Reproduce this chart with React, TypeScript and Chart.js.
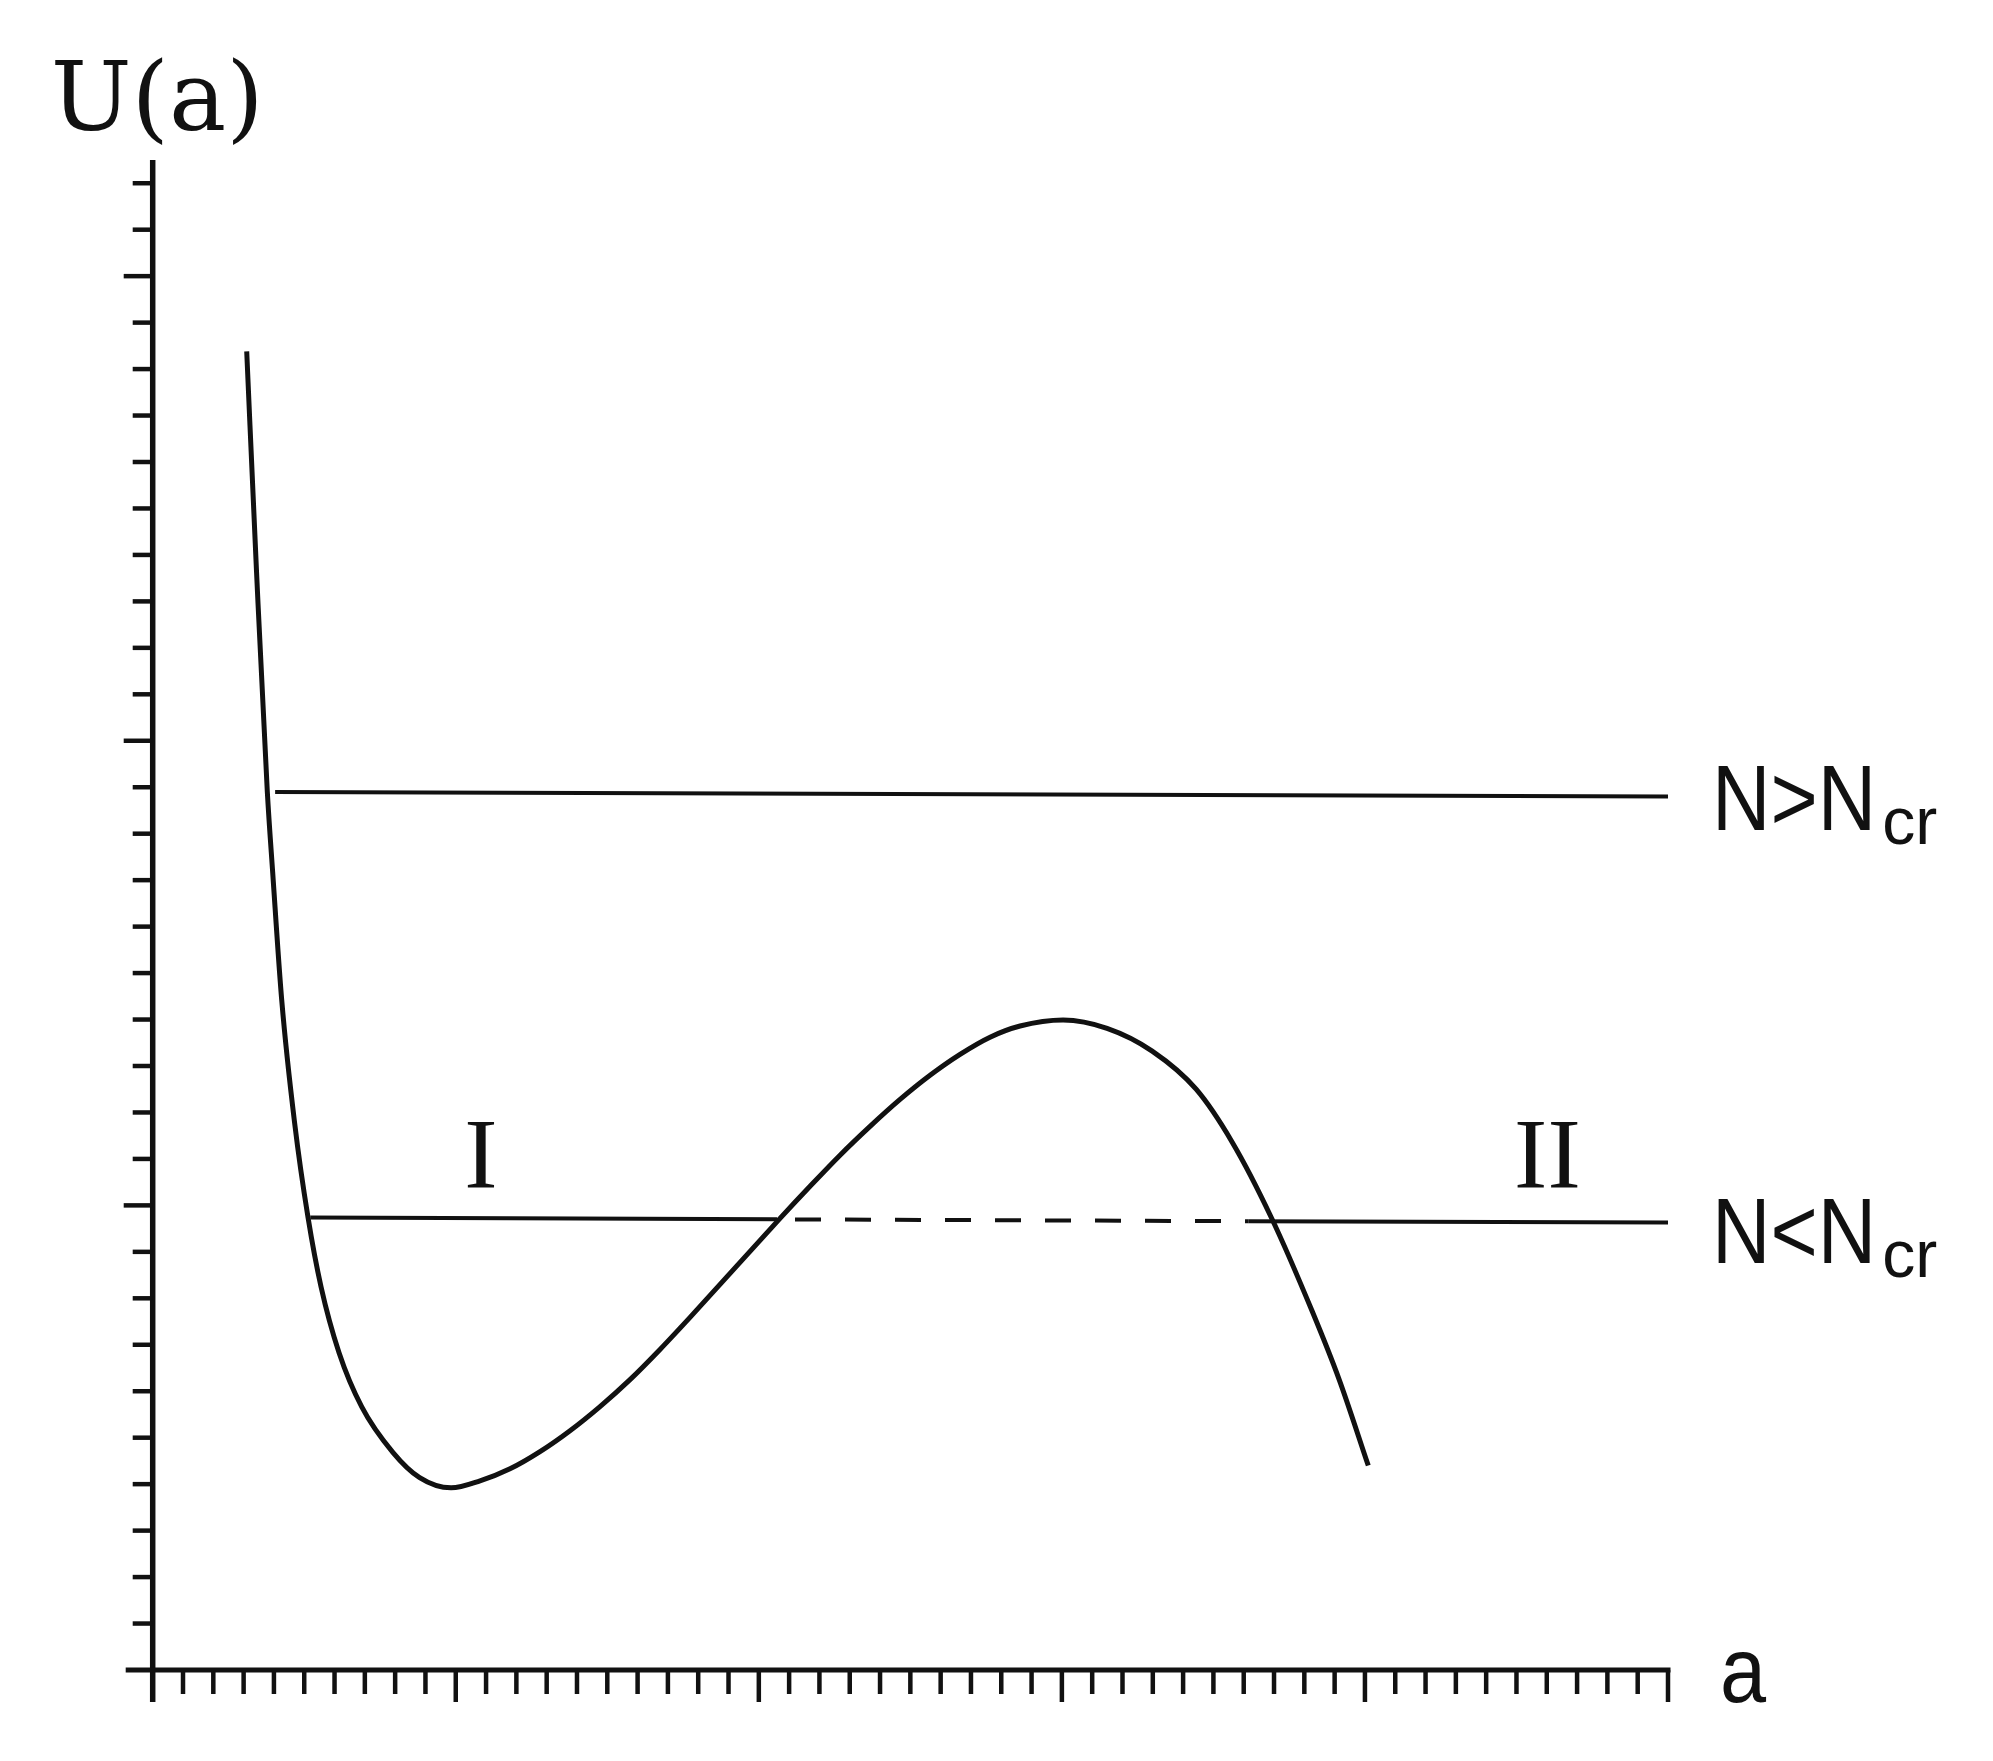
import React, { useEffect, useRef } from "react";
import { Chart, registerables } from "chart.js";

Chart.register(...registerables);

// ---- data (axis units: one minor tick = 1) ----
const curveA = [
  3.102, 3.426, 3.782, 3.960, 4.257, 4.680, 5.125, 5.554, 6.149, 6.894, 7.931, 8.809, 9.845,
  10.80, 11.79, 12.78, 13.77, 14.76, 15.75, 16.74, 17.73, 18.72, 19.71, 20.70, 21.69, 22.68,
  23.67, 24.66, 25.65, 26.64, 27.63, 28.62, 30.04,
  31.49, 32.98, 34.43, 35.62, 36.91, 38.26, 39.15, 40.11,
];
const curveU = [
  28.38, 23.64, 18.90, 17.16, 14.42, 11.79, 9.74, 8.25, 6.83, 5.67, 4.68, 4.14, 3.92,
  4.07, 4.33, 4.70, 5.15, 5.67, 6.25, 6.90, 7.59, 8.30, 9.01, 9.72, 10.41, 11.08,
  11.70, 12.28, 12.80, 13.25, 13.62, 13.86, 13.99,
  13.81, 13.32, 12.50, 11.36, 9.74, 7.72, 6.25, 4.40,
];

const upperLineA = [4.04, 50];
const upperLineU = [18.90, 18.80];

const lowerLineA = [5.2, 20.6, 36.15, 50];
const lowerLineU = [9.74, 9.70, 9.66, 9.63];
const lowerDashedSegment = 1;

const X_MAX = 50;
const Y_MAX = 32.5;
const X_TICK_COUNT = 50;
const Y_TICK_COUNT = 32;
const MAJOR_EVERY = 10;

const levelLabels = ["N>N", "N<N"];
const levelSub = "cr";
const romanLabels = ["I", "II"];
const yTitle = "U(a)";
const xTitle = "a";

const INK = "#111111";

const toPts = (xs: number[], ys: number[]) => xs.map((v, i) => ({ x: v, y: ys[i] }));

const sketchPlugin = {
  id: "sketchAxes",
  afterDatasetsDraw(chart: any) {
    const { ctx } = chart;
    const x = chart.scales.x;
    const y = chart.scales.y;
    const x0 = x.getPixelForValue(0);
    const y0 = y.getPixelForValue(0);
    const line = (ax: number, ay: number, bx: number, by: number) => {
      ctx.beginPath();
      ctx.moveTo(ax, ay);
      ctx.lineTo(bx, by);
      ctx.stroke();
    };
    ctx.save();
    ctx.strokeStyle = INK;
    ctx.fillStyle = INK;
    ctx.lineCap = "butt";

    // axes
    ctx.lineWidth = 5.5;
    line(x0, y.getPixelForValue(Y_MAX), x0, y0 + 32);
    ctx.lineWidth = 5;
    line(x0 - 27, y0, x.getPixelForValue(X_MAX) + 2.5, y0);

    // ticks
    ctx.lineWidth = 4.5;
    for (let i = 1; i <= Y_TICK_COUNT; i++) {
      const py = y.getPixelForValue(i);
      const len = i % MAJOR_EVERY === 0 ? 29 : 20;
      line(x0 - len, py, x0, py);
    }
    for (let i = 1; i <= X_TICK_COUNT; i++) {
      const px = x.getPixelForValue(i);
      const len = i % MAJOR_EVERY === 0 ? 32 : 24;
      line(px, y0, px, y0 + len);
    }

    // axis titles
    ctx.textBaseline = "alphabetic";
    ctx.textAlign = "left";
    ctx.font = '96px "DejaVu Serif"';
    ctx.fillText(yTitle, x0 - 102, y.getPixelForValue(Y_MAX) - 30);
    ctx.save();
    ctx.translate(x.getPixelForValue(X_MAX) + 52, y0 + 32);
    ctx.scale(0.9, 1);
    ctx.font = '92px "Liberation Sans"';
    ctx.fillText(xTitle, 0, 0);
    ctx.restore();

    // level labels next to the horizontal lines
    const levels = [
      { text: levelLabels[0], a: upperLineA[upperLineA.length - 1], u: upperLineU[upperLineU.length - 1], dy: 33 },
      { text: levelLabels[1], a: lowerLineA[lowerLineA.length - 1], u: lowerLineU[lowerLineU.length - 1], dy: 40 },
    ];
    const sx = 0.88;
    levels.forEach((l) => {
      const px = x.getPixelForValue(l.a) + 44;
      const base = y.getPixelForValue(l.u) + l.dy;
      ctx.font = '92px "Liberation Sans"';
      const w = ctx.measureText(l.text).width * sx;
      ctx.save();
      ctx.translate(px, base);
      ctx.scale(sx, 1);
      ctx.fillText(l.text, 0, 0);
      ctx.restore();
      ctx.font = '66px "Liberation Sans"';
      ctx.fillText(levelSub, px + w + 6, base + 14);
    });

    // region labels
    ctx.textAlign = "center";
    ctx.font = '100px "Liberation Serif"';
    const romanPos = [
      { a: 10.83, u: 10.39 },
      { a: 46.02, u: 10.39 },
    ];
    romanLabels.forEach((t, i) => {
      ctx.fillText(t, x.getPixelForValue(romanPos[i].a), y.getPixelForValue(romanPos[i].u));
    });
    ctx.restore();
  },
};

export default function App() {
  const ref = useRef<HTMLCanvasElement | null>(null);
  useEffect(() => {
    if (!ref.current) return;
    const chart = new Chart(ref.current, {
      type: "line",
      data: {
        datasets: [
          {
            data: toPts(curveA, curveU),
            borderColor: INK,
            borderWidth: 5,
            cubicInterpolationMode: "monotone",
            pointRadius: 0,
            fill: false,
          },
          {
            data: toPts(upperLineA, upperLineU),
            borderColor: INK,
            borderWidth: 4,
            tension: 0,
            pointRadius: 0,
            fill: false,
          },
          {
            data: toPts(lowerLineA, lowerLineU),
            borderColor: INK,
            borderWidth: 4,
            tension: 0,
            pointRadius: 0,
            fill: false,
            segment: {
              borderDash: (c: any) => (c.p0DataIndex === lowerDashedSegment ? [26, 24] : undefined),
              borderDashOffset: (c: any) => (c.p0DataIndex === lowerDashedSegment ? 32 : undefined),
            },
          } as any,
        ],
      },
      options: {
        responsive: false,
        maintainAspectRatio: false,
        animation: false,
        layout: { padding: { left: 152.7, right: 1993 - 1668, top: 160, bottom: 1761 - 1670 } },
        plugins: { legend: { display: false }, tooltip: { enabled: false } },
        scales: {
          x: { type: "linear", display: false, min: 0, max: X_MAX },
          y: { type: "linear", display: false, min: 0, max: Y_MAX },
        },
      },
      plugins: [sketchPlugin],
    });
    return () => chart.destroy();
  }, []);
  return (
    <div style={{ position: "fixed", left: 0, top: 0, width: 1993, height: 1761, background: "#ffffff" }}>
      <canvas ref={ref} width={1993} height={1761} style={{ display: "block" }} />
    </div>
  );
}
